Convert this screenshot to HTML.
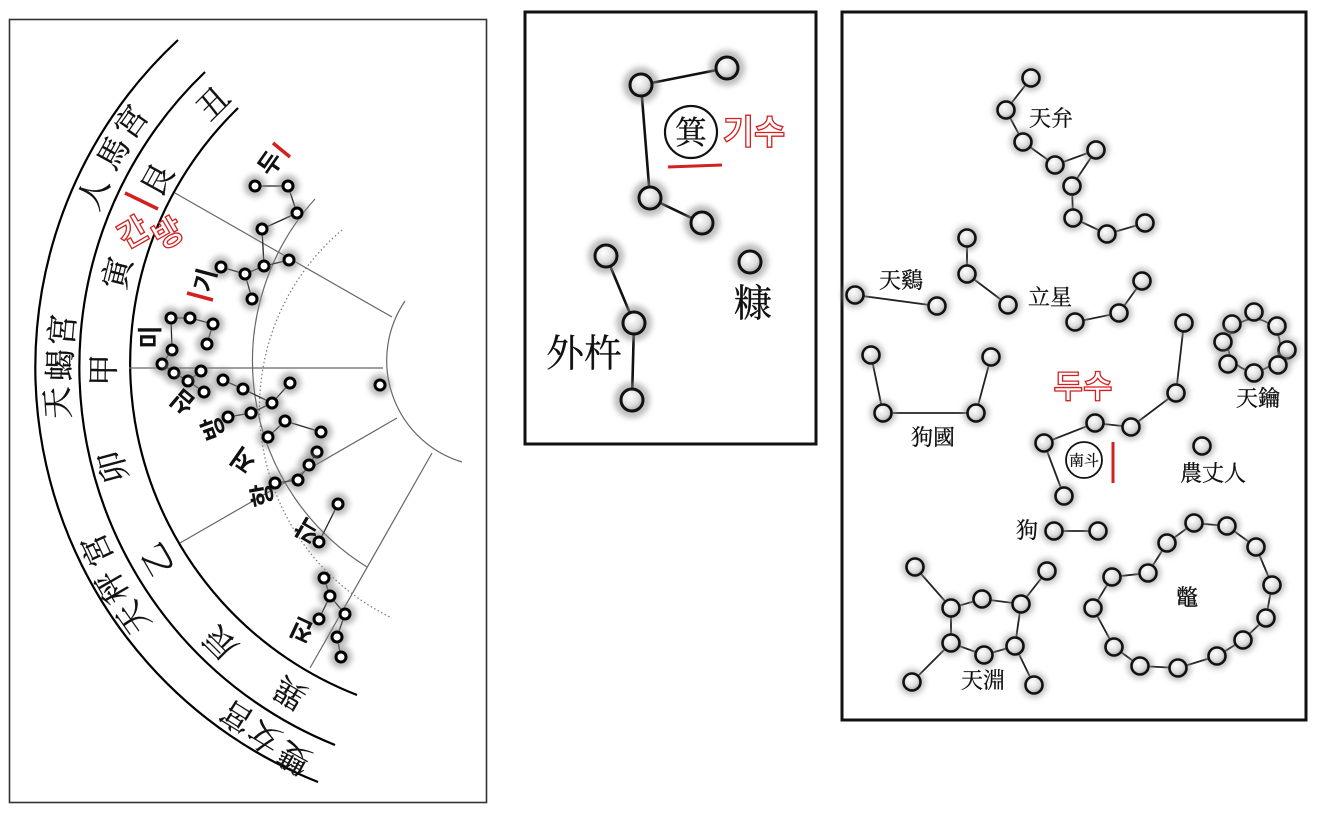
<!DOCTYPE html>
<html><head><meta charset="utf-8">
<style>
html,body{margin:0;padding:0;background:#fff;}
svg{display:block;}
.cj{font-family:"Liberation Serif","Noto Serif CJK SC",serif;fill:#111;stroke:#111;stroke-width:0.3;}
.ko{font-family:"Liberation Sans","Noto Sans CJK KR",sans-serif;font-weight:bold;fill:#111;}
.rk{font-family:"Liberation Sans","Noto Sans CJK KR",sans-serif;font-weight:bold;fill:#fff;stroke:#d42020;stroke-width:1.3;}
</style></head>
<body>
<svg width="1319" height="813" viewBox="0 0 1319 813" xmlns="http://www.w3.org/2000/svg">
<defs>
<filter id="bl" x="-50%" y="-50%" width="200%" height="200%"><feGaussianBlur stdDeviation="3"/></filter>
<radialGradient id="gf" cx="0.4" cy="0.35" r="0.7"><stop offset="0" stop-color="#fff"/><stop offset="0.6" stop-color="#ddd"/><stop offset="1" stop-color="#999"/></radialGradient>
<g id="s"><circle r="11" fill="#888" filter="url(#bl)" opacity="0.6"/><circle r="5" fill="#fff" stroke="#000" stroke-width="3"/></g>
<g id="b"><circle r="13" fill="#999" filter="url(#bl)" opacity="0.6"/><circle r="8.5" fill="url(#gf)" stroke="#111" stroke-width="2.6"/></g>
<g id="m"><circle r="18" fill="#888" filter="url(#bl)" opacity="0.55"/><circle r="11" fill="url(#gf)" stroke="#111" stroke-width="3"/></g>
</defs>

<!-- LEFT PANEL -->
<rect x="9.5" y="19.5" width="477" height="783" fill="#fff" stroke="#333" stroke-width="1.6"/>
<g fill="none" stroke="#000" stroke-width="2.2">
<path d="M178,40 A446,446 0 0 0 318,782"/>
<path d="M205,72 A408,408 0 0 0 335,745"/>
<path d="M238,108 A356,356 0 0 0 357,695"/>
</g>
<g fill="none" stroke="#666" stroke-width="1.2">
<path d="M405,301 A106,106 0 0 0 462,462"/>
<path d="M315,199 A242,242 0 0 0 367,567"/>
<path d="M175,193 L392,317 M129,368 L383,368 M180,543 L397,418 M310,668 L432,453"/>
</g>
<path d="M342,230 A233,233 0 0 0 392,618" fill="none" stroke="#777" stroke-width="1.2" stroke-dasharray="1.5,2.5"/>

<g stroke="#222" stroke-width="1.3" fill="none">
<polyline points="255,186 288,186 297,213 262,229 264,266 289,260"/>
<polyline points="221,267 245,274 252,299"/>
<line x1="245" y1="274" x2="264" y2="266"/>
<polyline points="171,318 190,318 213,324 207,344"/>
<polyline points="171,318 172,350 162,364 174,373 188,381 201,371"/>
<polyline points="188,381 204,392"/>
<polyline points="223,380 243,389 272,403 290,383"/>
<polyline points="228,417 251,413 272,403"/>
<polyline points="285,421 321,432"/>
<polyline points="285,421 268,437"/>
<polyline points="317,452 309,465 298,480 275,483"/>
<polyline points="338,504 319,542"/>
<polyline points="324,578 330,596 345,614 337,637 341,657"/>
<polyline points="330,596 319,619"/>
</g>
<g>
<use href="#s" x="255" y="186"/><use href="#s" x="288" y="186"/><use href="#s" x="297" y="213"/><use href="#s" x="262" y="229"/>
<use href="#s" x="264" y="266"/><use href="#s" x="289" y="260"/><use href="#s" x="221" y="267"/><use href="#s" x="245" y="274"/>
<use href="#s" x="252" y="299"/><use href="#s" x="171" y="318"/><use href="#s" x="190" y="318"/><use href="#s" x="213" y="324"/>
<use href="#s" x="207" y="344"/><use href="#s" x="172" y="350"/><use href="#s" x="162" y="364"/><use href="#s" x="174" y="373"/>
<use href="#s" x="188" y="381"/><use href="#s" x="201" y="371"/><use href="#s" x="223" y="380"/><use href="#s" x="243" y="389"/>
<use href="#s" x="290" y="383"/><use href="#s" x="380" y="385"/><use href="#s" x="204" y="392"/><use href="#s" x="228" y="417"/>
<use href="#s" x="251" y="413"/><use href="#s" x="272" y="403"/><use href="#s" x="285" y="421"/><use href="#s" x="321" y="432"/>
<use href="#s" x="268" y="437"/><use href="#s" x="317" y="452"/><use href="#s" x="309" y="465"/><use href="#s" x="298" y="480"/>
<use href="#s" x="275" y="483"/><use href="#s" x="338" y="504"/><use href="#s" x="319" y="542"/><use href="#s" x="324" y="578"/>
<use href="#s" x="330" y="596"/><use href="#s" x="345" y="614"/><use href="#s" x="319" y="619"/><use href="#s" x="337" y="637"/>
<use href="#s" x="341" y="657"/>
</g>

<g class="cj" font-size="32" text-anchor="middle">
<text transform="translate(93,193) rotate(-67)" dy="0.36em">人</text>
<text transform="translate(113,153) rotate(-61)" dy="0.36em">馬</text>
<text transform="translate(131,122) rotate(-55)" dy="0.36em">宮</text>
<text transform="translate(62,330) rotate(-85)" dy="0.36em">宮</text>
<text transform="translate(60,365) rotate(-89)" dy="0.36em">蝎</text>
<text transform="translate(57,403) rotate(-94)" dy="0.36em">天</text>
<text transform="translate(97,550) rotate(-115)" dy="0.36em">宮</text>
<text transform="translate(112,587) rotate(-120)" dy="0.36em">秤</text>
<text transform="translate(133,618) rotate(-125)" dy="0.36em">天</text>
<text transform="translate(237,717) rotate(-148)" dy="0.36em">宮</text>
<text transform="translate(264,737) rotate(-149)" dy="0.36em">女</text>
<text transform="translate(294,758) rotate(-151)" dy="0.36em">雙</text>
<text transform="translate(213,103) rotate(-45)" dy="0.36em">丑</text>
<text transform="translate(157,180) rotate(-61)" dy="0.36em">艮</text>
<text transform="translate(117,273) rotate(-76)" dy="0.36em">寅</text>
<text transform="translate(103,370) rotate(-89)" dy="0.36em">甲</text>
<text transform="translate(113,467) rotate(-105)" dy="0.36em">卯</text>
<text transform="translate(157,560) rotate(-120)" dy="0.36em">乙</text>
<text transform="translate(220,643) rotate(-135)" dy="0.36em">辰</text>
<text transform="translate(290,693) rotate(-149)" dy="0.36em">巽</text>
</g>
<g stroke="#d42020" stroke-width="3.5">
<line x1="125" y1="193" x2="158" y2="209"/>
<line x1="273" y1="143" x2="290" y2="157"/>
<line x1="187" y1="293" x2="213" y2="300"/>
</g>
<g class="rk" font-size="32" text-anchor="middle">
<text transform="translate(133,232) rotate(-30)" dy="0.36em">간</text>
<text transform="translate(168,233) rotate(-30)" dy="0.36em">방</text>
</g>
<g class="ko" font-size="25" text-anchor="middle">
<text transform="translate(270,163) rotate(-55)" dy="0.36em">두</text>
<text transform="translate(205,280) rotate(-75)" dy="0.36em">기</text>
<text transform="translate(150,337) rotate(-90)" dy="0.36em">미</text>
<text transform="translate(183,402) rotate(-140)" dy="0.36em">심</text>
<text transform="translate(213,428) rotate(-110)" dy="0.36em">방</text>
<text transform="translate(243,460) rotate(-145)" dy="0.36em">저</text>
<text transform="translate(262,495) rotate(-100)" dy="0.36em">항</text>
<text transform="translate(307,530) rotate(-150)" dy="0.36em">각</text>
<text transform="translate(302,630) rotate(-155)" dy="0.36em">진</text>
</g>

<!-- MIDDLE PANEL -->
<rect x="525" y="12" width="291" height="432" fill="#fff" stroke="#111" stroke-width="3"/>
<g stroke="#111" stroke-width="2.6" fill="none">
<polyline points="727,68 641,85 650,198 702,223"/>
<polyline points="606,256 634,323 632,400"/>
</g>
<use href="#m" x="641" y="85"/><use href="#m" x="727" y="68"/><use href="#m" x="650" y="198"/><use href="#m" x="702" y="223"/>
<use href="#m" x="606" y="256"/><use href="#m" x="634" y="323"/><use href="#m" x="632" y="400"/><use href="#m" x="750" y="262"/>
<circle cx="691" cy="132" r="26" fill="#fff" stroke="#111" stroke-width="2.2"/>
<text class="cj" x="691" y="132" dy="0.36em" font-size="32" text-anchor="middle">箕</text>
<text class="rk" x="754" y="132" dy="0.36em" font-size="34" text-anchor="middle">기수</text>
<line x1="668" y1="167" x2="722" y2="165" stroke="#d42020" stroke-width="3"/>
<text class="cj" x="753" y="303" dy="0.36em" font-size="38" text-anchor="middle">糠</text>
<text class="cj" x="584" y="353" dy="0.36em" font-size="38" text-anchor="middle">外杵</text>

<!-- RIGHT PANEL -->
<rect x="842" y="12" width="464" height="708" fill="#fff" stroke="#111" stroke-width="3"/>
<g stroke="#222" stroke-width="1.8" fill="none">
<polyline points="1031,78 1006,110 1023,142 1055,165 1096,150 1072,186 1073,218 1107,234 1145,223"/>
<polyline points="967,238 967,274 1008,305"/>
<polyline points="855,295 937,306"/>
<polyline points="1075,322 1119,313 1142,281"/>
<polyline points="871,355 883,413 976,413 991,357"/>
<polyline points="1184,323 1176,393 1131,427 1095,423 1044,443 1064,496"/>
<polyline points="1054,531 1098,531"/>
<polyline points="915,567 951,608 982,599 1021,604 1047,571"/>
<polyline points="951,608 951,643 984,655 1015,646 1021,604"/>
<polyline points="951,643 912,682"/>
<polyline points="1015,646 1034,685"/>
<polygon points="1112,577 1148,573 1167,543 1194,523 1227,526 1256,547 1272,585 1266,618 1243,640 1217,656 1178,668 1140,666 1114,647 1093,608"/>
<circle cx="1254" cy="345" r="26"/>
</g>
<g>
<use href="#b" x="1031" y="78"/><use href="#b" x="1006" y="110"/><use href="#b" x="1023" y="142"/><use href="#b" x="1055" y="165"/>
<use href="#b" x="1096" y="150"/><use href="#b" x="1072" y="186"/><use href="#b" x="1073" y="218"/><use href="#b" x="1107" y="234"/>
<use href="#b" x="1145" y="223"/><use href="#b" x="967" y="238"/><use href="#b" x="967" y="274"/><use href="#b" x="1008" y="305"/>
<use href="#b" x="855" y="295"/><use href="#b" x="937" y="306"/><use href="#b" x="1075" y="322"/><use href="#b" x="1119" y="313"/>
<use href="#b" x="1142" y="281"/><use href="#b" x="871" y="355"/><use href="#b" x="883" y="413"/><use href="#b" x="976" y="413"/>
<use href="#b" x="991" y="357"/><use href="#b" x="1184" y="323"/><use href="#b" x="1176" y="393"/><use href="#b" x="1131" y="427"/>
<use href="#b" x="1095" y="423"/><use href="#b" x="1044" y="443"/><use href="#b" x="1064" y="496"/><use href="#b" x="1202" y="446"/>
<use href="#b" x="1054" y="531"/><use href="#b" x="1098" y="531"/>
<use href="#b" x="915" y="567"/><use href="#b" x="951" y="608"/><use href="#b" x="982" y="599"/><use href="#b" x="1021" y="604"/>
<use href="#b" x="1047" y="571"/><use href="#b" x="951" y="643"/><use href="#b" x="984" y="655"/><use href="#b" x="1015" y="646"/>
<use href="#b" x="912" y="682"/><use href="#b" x="1034" y="685"/>
<use href="#b" x="1112" y="577"/><use href="#b" x="1148" y="573"/><use href="#b" x="1167" y="543"/><use href="#b" x="1194" y="523"/>
<use href="#b" x="1227" y="526"/><use href="#b" x="1256" y="547"/><use href="#b" x="1272" y="585"/><use href="#b" x="1266" y="618"/>
<use href="#b" x="1243" y="640"/><use href="#b" x="1217" y="656"/><use href="#b" x="1178" y="668"/><use href="#b" x="1140" y="666"/>
<use href="#b" x="1114" y="647"/><use href="#b" x="1093" y="608"/>
<use href="#b" x="1232" y="324"/><use href="#b" x="1254" y="312"/><use href="#b" x="1277" y="326"/><use href="#b" x="1287" y="350"/>
<use href="#b" x="1223" y="342"/><use href="#b" x="1228" y="364"/><use href="#b" x="1254" y="373"/><use href="#b" x="1278" y="365"/>
</g>
<circle cx="1084" cy="460" r="18" fill="#fff" stroke="#111" stroke-width="1.8"/>
<text class="cj" x="1084" y="460" dy="0.36em" font-size="15" text-anchor="middle">南斗</text>
<line x1="1113" y1="442" x2="1113" y2="483" stroke="#d42020" stroke-width="3"/>
<text class="rk" x="1083" y="386" dy="0.36em" font-size="32" text-anchor="middle">두수</text>
<g class="cj" font-size="22" text-anchor="middle">
<text x="1051" y="118" dy="0.36em">天弁</text>
<text x="1050" y="297" dy="0.36em">立星</text>
<text x="901" y="280" dy="0.36em">天鷄</text>
<text x="933" y="437" dy="0.36em">狗國</text>
<text x="1258" y="398" dy="0.36em">天鑰</text>
<text x="1213" y="473" dy="0.36em">農丈人</text>
<text x="1027" y="530" dy="0.36em">狗</text>
<text x="983" y="680" dy="0.36em">天淵</text>
<text x="1187" y="597" dy="0.36em">鼈</text>
</g>
</svg>
</body></html>
